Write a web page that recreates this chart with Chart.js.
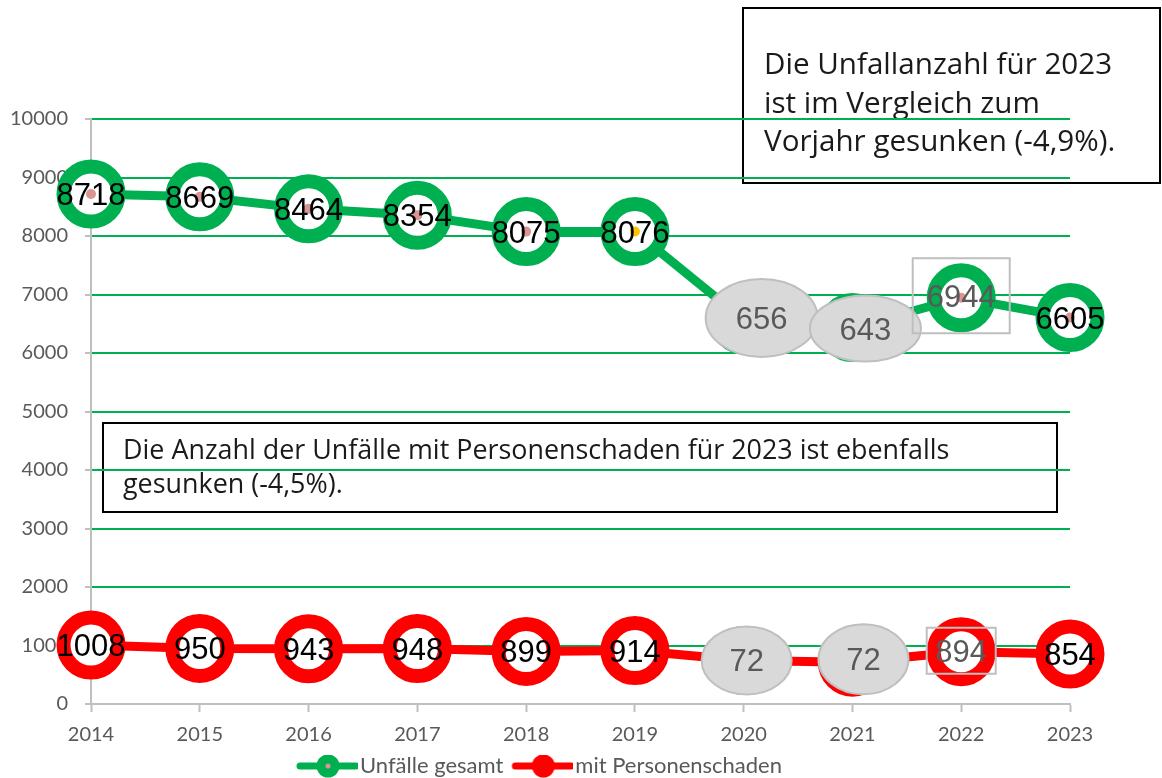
<!DOCTYPE html>
<html>
<head>
<meta charset="utf-8">
<script src="https://cdn.jsdelivr.net/npm/chart.js@4/dist/chart.umd.min.js"></script>
<style>
  body { margin: 0; background: #fff; }
  #wrap { width: 1162px; height: 778px; }
</style>
</head>
<body>
<div id="wrap"><canvas id="chart-unfaelle" width="1162" height="778"></canvas></div>
<script>
//************ Daten */
const years = ['2014', '2015', '2016', '2017', '2018', '2019', '2020', '2021', '2022', '2023'];
const unfaelleGesamt = [8718, 8669, 8464, 8354, 8075, 8076, 6565, 6435, 6944, 6605];
const mitPersonenschaden = [1008, 950, 943, 948, 899, 914, 745, 715, 894, 854];
// Beschriftungen so wie sie im Bild stehen (abgeschnitten in 2020/2021)
const gesamtLabels = ['8718', '8669', '8464', '8354', '8075', '8076', '656', '643', '6944', '6605'];
const personenLabels = ['1008', '950', '943', '948', '899', '914', '72', '72', '894', '854'];
const yTicks = [0, 1000, 2000, 3000, 4000, 5000, 6000, 7000, 8000, 9000, 10000];

const textBox1 = ['Die Unfallanzahl für 2023', 'ist im Vergleich zum', 'Vorjahr gesunken (-4,9%).'];
const textBox2 = ['Die Anzahl der Unfälle mit Personenschaden für 2023 ist ebenfalls', 'gesunken (-4,5%).'];

// -- Farben
const GREEN = '#00b050';
const RED = '#ff0000';
const GREY_TXT = '#595959';
const AXIS = '#bfbfbf';

// Form der Beschriftungen (Index -> Form)
const callouts = {
    0: {
        6: { shape: 'ellipse', dx: 18, dy: -2, w: 112, h: 78 },
        7: { shape: 'ellipse', dx: 13, dy: 1, w: 111, h: 66 },
        8: { shape: 'rect', dx: 0, dy: -2, w: 97, h: 75 }
    },
    1: {
        6: { shape: 'ellipse', dx: 3, dy: 0, w: 90, h: 68 },
        7: { shape: 'ellipse', dx: 11, dy: -3, w: 90, h: 70 },
        8: { shape: 'rect', dx: 0, dy: -1, w: 69, h: 46 }
    }
};

//******** Legenden-Symbole */
function legendSymbol(color, dotColor) {
    const c = document.createElement('canvas');
    c.width = 79;
    c.height = 26;
    const g = c.getContext('2d');
    g.strokeStyle = color;
    g.lineWidth = 7;
    g.lineCap = 'round';
    g.beginPath();
    g.moveTo(21, 13);
    g.lineTo(77, 13);
    g.stroke();
    g.fillStyle = color;
    g.beginPath();
    g.arc(49, 13, 11.5, 0, Math.PI * 2);
    g.fill();
    if (dotColor) {
        g.fillStyle = dotColor;
        g.beginPath();
        g.arc(49, 13, 2.5, 0, Math.PI * 2);
        g.fill();
    }
    return c;
}
const symGreen = legendSymbol(GREEN, '#d99594');
const symRed = legendSymbol(RED, null);

//******** Plugins */
const boxPlugin = {
    id: 'textBoxes',
    beforeDraw(chart) {
        const ctx = chart.ctx;
        ctx.save();
        ctx.fillStyle = '#fff';
        ctx.fillRect(0, 0, chart.width, chart.height);
        ctx.strokeStyle = '#000';
        ctx.lineWidth = 2;
        ctx.strokeRect(743, 8, 417, 175);
        ctx.strokeRect(103, 423, 954, 89);
        ctx.fillStyle = '#1a1a1a';
        ctx.textAlign = 'left';
        ctx.textBaseline = 'alphabetic';
        ctx.font = '29.6px "Open Sans"';
        textBox1.forEach((t, i) => ctx.fillText(t, 764, 74 + i * 38.5));
        ctx.font = '26.9px "Open Sans"';
        textBox2.forEach((t, i) => ctx.fillText(t, 123, 459 + i * 34));
        ctx.restore();
    }
};

const labelPlugin = {
    id: 'pointLabels',
    afterDatasetsDraw(chart) {
        const ctx = chart.ctx;
        const sets = [gesamtLabels, personenLabels];
        ctx.save();
        ctx.font = '31px "Liberation Sans"';
        ctx.textAlign = 'center';
        ctx.textBaseline = 'alphabetic';
        sets.forEach((labels, di) => {
            const meta = chart.getDatasetMeta(di);
            meta.data.forEach((pt, i) => {
                const co = callouts[di][i];
                let x = pt.x, y = pt.y;
                ctx.fillStyle = '#000';
                if (co) {
                    x += co.dx;
                    y += co.dy;
                    ctx.lineWidth = 2;
                    ctx.strokeStyle = AXIS;
                    ctx.beginPath();
                    if (co.shape === 'ellipse') {
                        ctx.ellipse(x, y, co.w / 2, co.h / 2, 0, 0, Math.PI * 2);
                        ctx.fillStyle = '#d9d9d9';
                        ctx.fill();
                    } else {
                        ctx.rect(x - co.w / 2, y - co.h / 2, co.w, co.h);
                    }
                    ctx.stroke();
                    ctx.fillStyle = GREY_TXT;
                }
                ctx.fillText(labels[i], x, y + 11);
            });
        });
        ctx.restore();
    }
};

//******** Datensätze */
const dotColors = ['#d99594', '#d99594', '#d99594', '#d99594', '#d99594', '#ffc000', '#d99594', '#d99594', '#d99594', '#d99594'];

const data = {
    labels: years,
    datasets: [{
        label: 'Unfälle gesamt',
        data: unfaelleGesamt,
        borderColor: GREEN,
        borderWidth: 9,
        tension: 0,
        pointRadius: 27.5,
        pointBorderWidth: 14,
        pointBorderColor: GREEN,
        pointBackgroundColor: '#fff',
        pointHoverRadius: 27.5,
        order: 2
    }, {
        label: 'mit Personenschaden',
        data: mitPersonenschaden,
        borderColor: RED,
        borderWidth: 9,
        tension: 0,
        pointRadius: 27.5,
        pointBorderWidth: 14,
        pointBorderColor: RED,
        pointBackgroundColor: '#fff',
        pointHoverRadius: 27.5,
        order: 2
    }, {
        label: 'dots',
        data: unfaelleGesamt,
        showLine: false,
        pointRadius: 5,
        pointBorderWidth: 0,
        pointBackgroundColor: dotColors,
        order: 1
    }]
};

const options = {
    responsive: false,
    animation: false,
    events: [],
    layout: {
        padding: { top: 119, right: 92, left: 0, bottom: -9 }
    },
    scales: {
        x: {
            type: 'category',
            offset: false,
            afterFit: s => { s.height = 51; },
            grid: {
                drawOnChartArea: false,
                tickLength: 8,
                tickColor: AXIS,
                tickWidth: 2
            },
            border: { color: AXIS, width: 2 },
            ticks: {
                color: GREY_TXT,
                padding: 11,
                maxRotation: 0,
                font: { family: 'Lato', size: 20 }
            }
        },
        y: {
            min: 0,
            max: 10000,
            afterFit: s => { s.width = 91; },
            afterBuildTicks: s => { s.ticks = yTicks.map(v => ({ value: v })); },
            grid: {
                color: c => (c.tick && c.tick.value === 0) ? 'rgba(0,0,0,0)' : GREEN,
                lineWidth: 2,
                tickLength: 6,
                tickColor: AXIS,
                tickWidth: 2
            },
            border: { color: AXIS, width: 2 },
            ticks: {
                color: GREY_TXT,
                padding: 17,
                font: { family: 'Lato', size: 20 },
                callback: v => String(v)
            }
        }
    },
    plugins: {
        tooltip: { enabled: false },
        legend: {
            position: 'bottom',
            labels: {
                usePointStyle: true,
                pointStyleWidth: 61,
                padding: 0,
                color: GREY_TXT,
                font: { family: 'Lato', size: 22 },
                generateLabels: () => [
                    { text: 'Unfälle gesamt', pointStyle: symGreen, datasetIndex: 0, hidden: false, fontColor: GREY_TXT, lineWidth: 0 },
                    { text: 'mit Personenschaden', pointStyle: symRed, datasetIndex: 1, hidden: false, fontColor: GREY_TXT, lineWidth: 0 }
                ]
            }
        }
    }
};

const ctx = document.getElementById('chart-unfaelle').getContext('2d');
const myChart = new Chart(ctx, {
    type: 'line',
    data: data,
    options: options,
    plugins: [boxPlugin, labelPlugin]
});
</script>
</body>
</html>
